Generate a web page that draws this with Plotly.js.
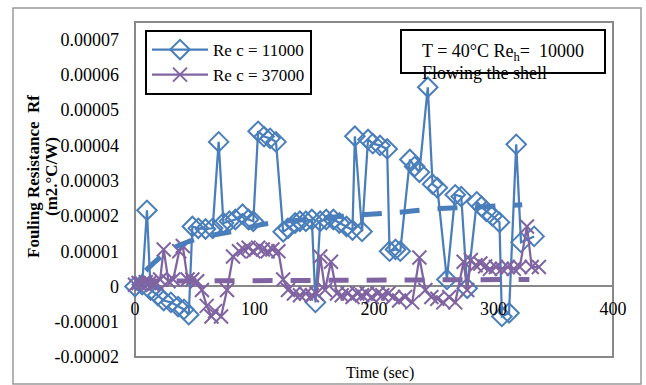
<!DOCTYPE html>
<html>
<head>
<meta charset="utf-8">
<script src="https://cdn.plot.ly/plotly-3.0.1.min.js"></script>
<style>html,body{margin:0;padding:0;background:#fff;}#chart{width:646px;height:385px;}</style>
</head>
<body>
<div id="chart"></div>
<script>
// ---- data (time in sec, fouling resistance in m2.°C/W) ----
const timeA = [0,6,10,13,19,24,30,36,41,45,48,53,59,65,70,74,79,84,90,95,99,103,108,113,118,124,128,134,138,143,148,151,155,160,166,171,177,182,184,190,195,199,205,211,213,218,222,230,234,238,245,249,253,261,268,273,278,286,290,294,299,305,307,313,319,323,334];
const rfA = [0,0.05e-5,2.16e-5,-0.1e-5,-0.25e-5,-0.4e-5,-0.45e-5,-0.57e-5,-0.65e-5,-0.8e-5,1.7e-5,1.65e-5,1.63e-5,1.65e-5,4.1e-5,1.8e-5,1.85e-5,1.9e-5,2.05e-5,1.9e-5,1.85e-5,4.4e-5,4.25e-5,4.2e-5,4.1e-5,1.55e-5,1.65e-5,1.8e-5,1.85e-5,1.85e-5,1.9e-5,-0.45e-5,1.85e-5,1.9e-5,1.9e-5,1.8e-5,1.7e-5,1.6e-5,4.26e-5,1.56e-5,4.17e-5,4.05e-5,4.0e-5,3.9e-5,1.0e-5,1.05e-5,1.0e-5,3.6e-5,3.4e-5,3.24e-5,5.65e-5,2.9e-5,2.8e-5,0.2e-5,2.6e-5,2.55e-5,-0.05e-5,2.4e-5,2.27e-5,2.13e-5,2.0e-5,1.82e-5,-0.85e-5,-0.75e-5,4.03e-5,1.25e-5,1.42e-5];

const timeB = [0,3,6,9,12,15,18,21,24,28,32,37,40,44,48,52,56,60,64,67,72,77,82,87,91,95,99,103,107,111,115,120,124,128,133,138,143,148,152,155,159,164,169,173,178,182,186,190,194,198,203,207,212,216,221,226,232,238,243,248,253,258,263,268,275,278,281,285,289,293,297,302,307,312,317,322,328,332,338];
const rfB = [0.05e-5,0.1e-5,0.08e-5,0.12e-5,0.1e-5,0.05e-5,0.1e-5,0.2e-5,1.05e-5,0.15e-5,0.2e-5,1.0e-5,1.15e-5,0.2e-5,0.2e-5,0.15e-5,-0.1e-5,-0.55e-5,-0.85e-5,-0.7e-5,-0.85e-5,-0.1e-5,0.85e-5,1.0e-5,1.05e-5,1.1e-5,1.0e-5,1.1e-5,1.05e-5,1.0e-5,1.05e-5,1.0e-5,0.2e-5,-0.1e-5,-0.2e-5,-0.25e-5,-0.2e-5,-0.25e-5,-0.2e-5,0.85e-5,-0.1e-5,0.7e-5,-0.2e-5,-0.25e-5,-0.2e-5,-0.3e-5,-0.2e-5,-0.25e-5,-0.2e-5,-0.3e-5,-0.2e-5,-0.25e-5,-0.2e-5,-0.3e-5,-0.4e-5,-0.3e-5,-0.45e-5,0.82e-5,-0.1e-5,-0.3e-5,-0.35e-5,-0.45e-5,-0.3e-5,-0.45e-5,0.7e-5,-0.1e-5,0.75e-5,0.6e-5,0.65e-5,0.57e-5,0.5e-5,0.55e-5,0.5e-5,0.55e-5,0.5e-5,0.55e-5,1.7e-5,0.55e-5,0.55e-5];

// trendlines
const trendTimeA = [9,30,55,80,110,150,185,220,250,285,324];
const trendRfA = [0.45e-5,1.05e-5,1.38e-5,1.55e-5,1.78e-5,1.92e-5,2.02e-5,2.1e-5,2.2e-5,2.25e-5,2.32e-5];
const trendTimeB = [3,330];
const trendRfB = [0.15e-5,0.2e-5];

const seriesNames = ['Re c = 11000','Re c = 37000'];
const xTickVals = [0,100,200,300,400];
const yTickVals = [-2e-5,-1e-5,0,1e-5,2e-5,3e-5,4e-5,5e-5,6e-5,7e-5];
const yTickLabels = ['-0.00002','-0.00001','0','0.00001','0.00002','0.00003','0.00004','0.00005','0.00006','0.00007'];

const BLUE = '#4A7EBB', PURPLE = '#8064A2';
const FONT = 'Liberation Serif, Times New Roman, serif';

const traces = [
  {x: timeA, y: rfA, name: seriesNames[0], type: 'scatter', mode: 'lines+markers', cliponaxis: false,
   line: {color: BLUE, width: 2.25},
   marker: {symbol: 'diamond-open', size: 15, color: BLUE, line: {color: BLUE, width: 2}}},
  {x: timeB, y: rfB, name: seriesNames[1], type: 'scatter', mode: 'lines+markers', cliponaxis: false,
   line: {color: PURPLE, width: 2.25},
   marker: {symbol: 'x-thin', size: 14, color: PURPLE, line: {color: PURPLE, width: 2}}},
  {x: trendTimeA, y: trendRfA, type: 'scatter', mode: 'lines', showlegend: false, hoverinfo: 'skip',
   line: {color: BLUE, width: 5, dash: '20px,18px', shape: 'spline'}},
  {x: trendTimeB, y: trendRfB, type: 'scatter', mode: 'lines', showlegend: false, hoverinfo: 'skip',
   line: {color: PURPLE, width: 5, dash: '20px,18px'}}
];

const L = 135, R = 33, T = 22, B = 28, W = 646, H = 385;
const pw = W - L - R, ph = H - T - B;
const px = v => (v - L) / pw;
const py = v => (H - B - v) / ph;

const layout = {
  width: W, height: H,
  margin: {l: L, r: R, t: T, b: B, pad: 0},
  paper_bgcolor: '#fff', plot_bgcolor: '#fff',
  font: {family: FONT, size: 18, color: '#000'},
  showlegend: true,
  legend: {x: px(145), y: py(30), xanchor: 'left', yanchor: 'top',
    bgcolor: '#fff', bordercolor: '#000', borderwidth: 2, itemwidth: 56,
    font: {family: FONT, size: 17, color: '#000'}, tracegroupgap: 0},
  xaxis: {range: [0, 400], tickvals: xTickVals, ticktext: xTickVals.map(String),
    anchor: 'free', position: 2 / 9.5, showline: false, showgrid: false, zeroline: false,
    ticks: '', ticklabelstandoff: 10, tickfont: {family: FONT, size: 18, color: '#000'}},
  yaxis: {range: [-2e-5, 7.5e-5], tickvals: yTickVals, ticktext: yTickLabels,
    showgrid: false, zeroline: true, zerolinecolor: '#888', zerolinewidth: 2,
    showline: false, ticks: '', ticklabelstandoff: 15,
    tickfont: {family: FONT, size: 18, color: '#000'}},
  shapes: [
    {type: 'rect', xref: 'paper', yref: 'paper', x0: 0, x1: 1, y0: 0, y1: 1,
     line: {color: '#888', width: 2}, layer: 'below'},
    {type: 'rect', xref: 'paper', yref: 'paper', x0: px(13), x1: px(641), y0: py(384), y1: py(8),
     line: {color: '#999', width: 1.5}, layer: 'below'},
    {type: 'rect', xref: 'paper', yref: 'paper', x0: px(401), x1: px(605), y0: py(73), y1: py(30),
     line: {color: '#000', width: 2}, fillcolor: 'rgba(0,0,0,0)', layer: 'above'}
  ],
  annotations: [
    {xref: 'paper', yref: 'paper', x: px(420), y: py(52), xanchor: 'left', yanchor: 'middle', showarrow: false,
     text: 'T = 40°C Re<sub>h</sub>=&nbsp; 10000', font: {family: FONT, size: 18, color: '#000'}},
    {xref: 'paper', yref: 'paper', x: px(420), y: py(73), xanchor: 'left', yanchor: 'middle', showarrow: false,
     text: 'Flowing the shell', font: {family: FONT, size: 18, color: '#000'}},
    {xref: 'paper', yref: 'paper', x: px(33), y: py(177), xanchor: 'center', yanchor: 'middle', showarrow: false,
     textangle: -90, text: '<b>Fouling Resistance&nbsp; Rf</b>', font: {family: FONT, size: 17, color: '#000'}},
    {xref: 'paper', yref: 'paper', x: px(51), y: py(177), xanchor: 'center', yanchor: 'middle', showarrow: false,
     textangle: -90, text: '<b>(m2.°C/W)</b>', font: {family: FONT, size: 17, color: '#000'}},
    {xref: 'paper', yref: 'paper', x: px(380), y: py(373), xanchor: 'center', yanchor: 'middle', showarrow: false,
     text: 'Time (sec)', font: {family: FONT, size: 16, color: '#000'}}
  ]
};

Plotly.newPlot('chart', traces, layout, {staticPlot: true, displayModeBar: false});
</script>
</body>
</html>
